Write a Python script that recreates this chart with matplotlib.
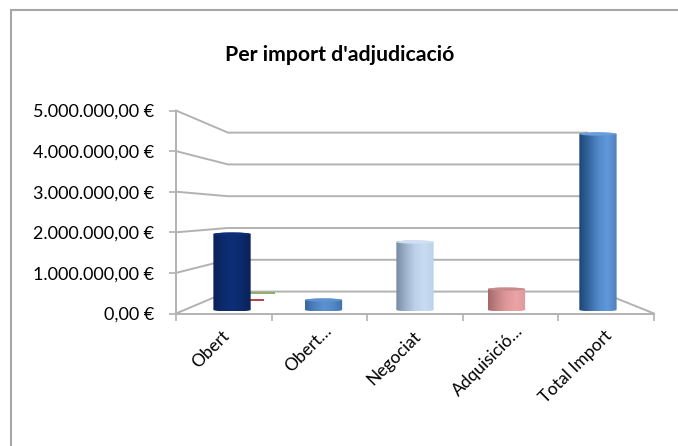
import numpy as np
import matplotlib
matplotlib.use('Agg')
import matplotlib.pyplot as plt
from matplotlib.colors import LinearSegmentedColormap
from matplotlib.lines import Line2D
from matplotlib.patches import Ellipse, PathPatch
from matplotlib.path import Path
from matplotlib.transforms import Affine2D

plt.rcParams['font.family'] = ['Lato', 'DejaVu Sans']

categories = ['Obert', 'Obert…', 'Negociat', 'Adquisició…', 'Total Import']
imports = [1945000, 320000, 1750000, 590000, 4410000]
y_ticks = [0, 1000000, 2000000, 3000000, 4000000, 5000000]
y_labels = ['0,00 €', '1.000.000,00 €', '2.000.000,00 €', '3.000.000,00 €',
            '4.000.000,00 €', '5.000.000,00 €']
bar_colors = [
    ['#0a2259', '#0c2a6c', '#0e2f76', '#0c2a6c', '#0a2259'],
    ['#3a689f', '#4d80bd', '#5d92d0', '#5288c5', '#3f70aa'],
    ['#76899f', '#9db2ca', '#bcd2ea', '#c8dcf2', '#bcd2ea'],
    ['#a4686a', '#c48486', '#e09a9c', '#eaa4a6', '#de9a9c'],
    ['#1d4575', '#34659f', '#5288c8', '#6098da', '#4f80bb'],
]
top_colors = ['#0e2d78', '#5f92d2', '#cfe0f3', '#c98a8c', '#6a9ddc']

# the two thin discs hiding behind the first bar
small_values = [505000, 330000]
small_centers = [0.87, 0.75]
small_colors = ['#8fb06a', '#b5484a']

GRID = '#b2b2b2'
BACK_BASE = 540000    # floor line at the back wall, in front axis units
BACK_SCALE = 0.783    # back wall spacing compared to front axis
BASE = 50000          # bars stand a little behind the front edge
CAP = 40000           # half height of cylinder ends
BAR_WIDTH = 0.39

fig = plt.figure(figsize=(6.78, 4.46), dpi=100, facecolor='white')
fig.add_artist(Line2D([10.5 / 678, 10.5 / 678, 1], [0, 1 - 9.5 / 446, 1 - 9.5 / 446],
                      transform=fig.transFigure, color='#a6a6a6', lw=1.5,
                      solid_joinstyle='miter'))
ax = fig.add_axes([176 / 678, 1 - 313.5 / 446, 478 / 678, 203 / 446])

# walls and floor
x_back_left = 52 / 95.6
x_back_right = 4.43
for v in y_ticks:
    back = BACK_BASE + v * BACK_SCALE
    ax.plot([0, x_back_left, x_back_right if v == 0 else 4.3], [v, back, back],
            color=GRID, lw=1.4, zorder=1, clip_on=False, solid_joinstyle='miter')
ax.plot([x_back_right, 5], [BACK_BASE, 0], color=GRID, lw=1.4, zorder=1, clip_on=False)

# small discs
for v, c, col in zip(small_values, small_centers, small_colors):
    ax.bar(c, 60000, 0.34, bottom=v - 30000, color=col, zorder=2)

# cylinders
for i, value in enumerate(imports):
    xc = 2.5 + (i - 2) * 0.957
    left, right = xc - BAR_WIDTH / 2, xc + BAR_WIDTH / 2
    cmap = LinearSegmentedColormap.from_list('cyl', bar_colors[i])
    top = BASE + value - CAP
    t = np.linspace(0, np.pi, 40)
    xs = xc + BAR_WIDTH / 2 * np.cos(t)
    top_arc = np.column_stack([xs, top + CAP * np.sin(t)])
    bottom_arc = np.column_stack([xs[::-1], BASE + CAP - CAP * np.sin(t)])
    verts = np.vstack([top_arc, bottom_arc, top_arc[:1]])
    clip = PathPatch(Path(verts), transform=ax.transData, facecolor='none', edgecolor='none')
    ax.add_patch(clip)
    im = ax.imshow(np.linspace(0, 1, 128).reshape(1, -1), cmap=cmap, aspect='auto',
                   extent=[left, right, BASE, BASE + value], zorder=3)
    im.set_clip_path(clip)
    ax.add_patch(Ellipse((xc, top), BAR_WIDTH, 2 * CAP, facecolor=top_colors[i],
                         edgecolor='none', zorder=4))

ax.set_xlim(0, 5)
ax.set_ylim(0, 5000000)
ax.set_facecolor('none')
for s in ['top', 'right']:
    ax.spines[s].set_visible(False)
for s in ['left', 'bottom']:
    ax.spines[s].set_color(GRID)
    ax.spines[s].set_linewidth(1.4)
    ax.spines[s].set_zorder(2)

ax.set_yticks(y_ticks, y_labels, fontsize=13, color='black')
ax.tick_params(axis='y', color=GRID, width=1.2, length=5, pad=11)
ax.set_xticks(range(6), [''] * 6)
ax.tick_params(axis='x', which='major', color=GRID, width=1.2, length=5)
ax.set_xticks(np.arange(5) + 0.5, categories, minor=True, fontsize=12.5, color='black',
              rotation=45, rotation_mode='anchor', ha='right', va='center')
ax.tick_params(axis='x', which='minor', length=0, pad=15)

# labels cut with an ellipsis sit further along than the others
for label in ax.get_xminorticklabels():
    dx = 10 if label.get_text().endswith('…') else 3
    dy = 6 if label.get_text().endswith('…') else 1
    label.set_transform(label.get_transform() + Affine2D().translate(dx, dy))

fig.text(339.5 / 678, 1 - 55 / 446, "Per import d'adjudicació", fontsize=15.3,
         fontweight='bold', ha='center', va='center')

fig.savefig('out.png', dpi=100)
